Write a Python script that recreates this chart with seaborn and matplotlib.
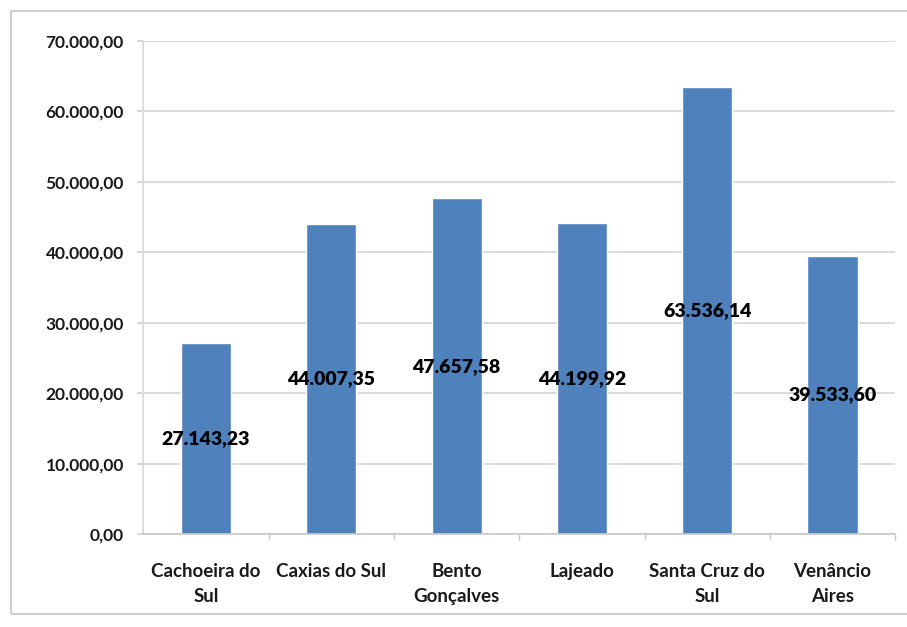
import matplotlib
matplotlib.use("Agg")
import matplotlib.pyplot as plt
from matplotlib.patches import Rectangle
from matplotlib.ticker import FuncFormatter
import seaborn as sns
import pandas as pd

# Municipalities and their values
municipios = ["Cachoeira do\nSul", "Caxias do Sul", "Bento\nGonçalves",
              "Lajeado", "Santa Cruz do\nSul", "Venâncio\nAires"]
valores = [27143.23, 44007.35, 47657.58, 44199.92, 63536.14, 39533.60]
y_ticks = [0, 10000, 20000, 30000, 40000, 50000, 60000, 70000]


def br_fmt(v, _pos=None):
    s = f"{v:,.2f}"
    return s.replace(",", "X").replace(".", ",").replace("X", ".")


df = pd.DataFrame({"municipio": municipios, "valor": valores})

sns.set_theme(style="white")
plt.rcParams["font.family"] = ["Lato", "DejaVu Sans"]
plt.rcParams["font.weight"] = "bold"

fig = plt.figure(figsize=(9.07, 6.27), dpi=100)
ax = fig.add_axes([0.158, 0.1483, 0.829, 0.7863])

sns.barplot(data=df, x="municipio", y="valor", color="#4F81BD",
            width=0.4, saturation=1, ax=ax)

ax.set_ylim(0, 70000)
ax.set_xlim(-0.5, len(municipios) - 0.5)
ax.set_yticks(y_ticks)
ax.yaxis.set_major_formatter(FuncFormatter(br_fmt))
ax.yaxis.grid(True, color="#d4d4d4", linewidth=1.2)
ax.set_axisbelow(True)
ax.set_xlabel("")
ax.set_ylabel("")

for side in ["top", "right"]:
    ax.spines[side].set_visible(False)
ax.spines["left"].set_color("#d8d8d8")
ax.spines["bottom"].set_color("#c8c8c8")
ax.spines["bottom"].set_linewidth(1.2)

ax.tick_params(axis="y", length=4, color="#d0d0d0", labelsize=12.5,
               labelcolor="#1a1a1a", pad=10, left=True)
ax.tick_params(axis="x", length=0, labelsize=13.5, labelcolor="#1a1a1a", pad=21)
for lbl in ax.get_xticklabels() + ax.get_yticklabels():
    lbl.set_fontweight("bold")
for lbl in ax.get_xticklabels():
    lbl.set_linespacing(1.55)

# boundary ticks between categories on the x axis
ax.set_xticks([i + 0.5 for i in range(len(municipios))], minor=True)
ax.tick_params(axis="x", which="minor", length=4, color="#c8c8c8", bottom=True)

ax.bar_label(ax.containers[0], labels=[br_fmt(v) for v in valores],
             label_type="center", fontsize=14, fontweight="heavy",
             color="black")

# chart frame
fig.patches.append(Rectangle((11 / 907, 1 - 614 / 627), 920 / 907, 603 / 627,
                             transform=fig.transFigure, fill=False,
                             edgecolor="#cfcfcf", linewidth=1.5))

fig.savefig("out.png", dpi=100, facecolor="white")
